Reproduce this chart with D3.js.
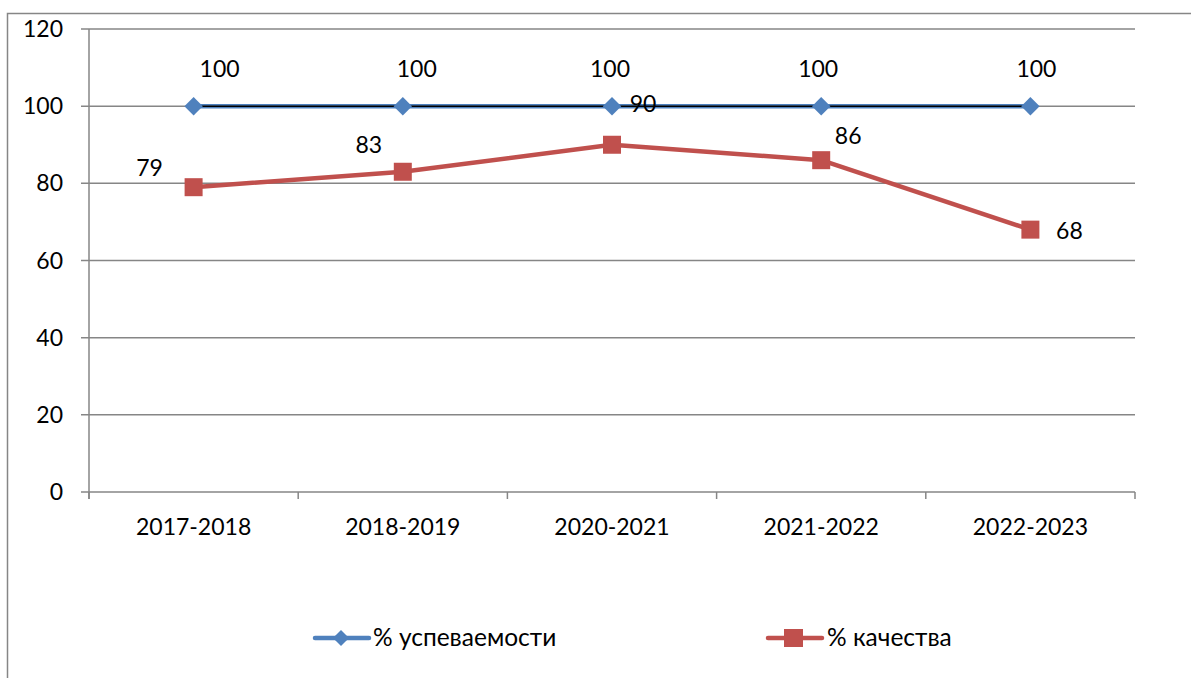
<!DOCTYPE html>
<html>
<head>
<meta charset="utf-8">
<script src="https://d3js.org/d3.v7.min.js"></script>
<style>
  body { margin: 0; background: #fff; }
  text { font-family: Lato, "Open Sans", "Liberation Sans", sans-serif; fill: #000; }
</style>
</head>
<body>
<div id="chart"></div>
<script>
// data
var years = ["2017-2018", "2018-2019", "2020-2021", "2021-2022", "2022-2023"];
var uspevaemost = [100, 100, 100, 100, 100];
var kachestvo = [79, 83, 90, 86, 68];
var yTicks = [0, 20, 40, 60, 80, 100, 120];

var W = 1191, H = 678;
var margin = {top: 29, right: 56, bottom: 186, left: 89},
    width = W - margin.left - margin.right,
    height = H - margin.top - margin.bottom;
var fs = 23;

var svg = d3.select("#chart").append("svg")
    .attr("width", W).attr("height", H);

// outer frame
svg.append("rect")
  .attr("x", 7.5).attr("y", 13.5)
  .attr("width", W + 10).attr("height", H + 10)
  .attr("fill", "none").attr("stroke", "#868686").attr("stroke-width", 1.5);

var g = svg.append("g")
  .attr("transform", "translate(" + margin.left + "," + margin.top + ")");

var x = d3.scaleBand().domain(years).range([0, width]);
var y = d3.scaleLinear().domain([0, 120]).range([height, 0]);
var cx = function(i) { return x(years[i]) + x.bandwidth() / 2; };

// gridlines
g.selectAll(".grid").data(yTicks).enter().append("line")
  .attr("x1", -8).attr("x2", width)
  .attr("y1", function(d) { return y(d); }).attr("y2", function(d) { return y(d); })
  .attr("stroke", "#868686").attr("stroke-width", 1.5);

// y axis line
g.append("line").attr("x1", 0).attr("x2", 0).attr("y1", 0).attr("y2", height + 7)
  .attr("stroke", "#868686").attr("stroke-width", 1.5);

// x ticks at category boundaries
var bounds = years.map(function(d) { return x(d); }).concat([width]);
g.selectAll(".xt").data(bounds).enter().append("line")
  .attr("x1", function(d) { return d; }).attr("x2", function(d) { return d; })
  .attr("y1", height).attr("y2", height + 7)
  .attr("stroke", "#868686").attr("stroke-width", 1.5);

// y tick labels
g.selectAll(".yl").data(yTicks).enter().append("text")
  .attr("x", -26).attr("y", function(d) { return y(d) + 8; })
  .attr("text-anchor", "end").attr("font-size", fs)
  .text(function(d) { return d; });

// x labels
g.selectAll(".xl").data(years).enter().append("text")
  .attr("x", function(d) { return x(d) + x.bandwidth() / 2; })
  .attr("y", height + 43)
  .attr("text-anchor", "middle").attr("font-size", fs)
  .text(function(d) { return d; });

var blue = "#4F81BD", red = "#C0504D";
var line = d3.line().x(function(d, i) { return cx(i); }).y(function(d) { return y(d); });

// red series
g.append("path").datum(kachestvo).attr("d", line)
  .attr("fill", "none").attr("stroke", red).attr("stroke-width", 4.5)
  .attr("stroke-linejoin", "round");
g.selectAll(".sq").data(kachestvo).enter().append("rect")
  .attr("x", function(d, i) { return cx(i) - 9; })
  .attr("y", function(d) { return y(d) - 9; })
  .attr("width", 18).attr("height", 18).attr("fill", red);

// blue series
g.append("path").datum(uspevaemost).attr("d", line)
  .attr("fill", "none").attr("stroke", blue).attr("stroke-width", 4.5);
g.append("path").datum(uspevaemost).attr("d", line)
  .attr("fill", "none").attr("stroke", "#000").attr("stroke-width", 1.5);
var diamond = d3.symbol().type(d3.symbolSquare).size(170);
g.selectAll(".dm").data(uspevaemost).enter().append("path")
  .attr("d", diamond)
  .attr("transform", function(d, i) { return "translate(" + cx(i) + "," + y(d) + ") rotate(45)"; })
  .attr("fill", blue);

// data labels
var blueDx = [26, 14, -2, -3, 6];
g.selectAll(".bl").data(uspevaemost).enter().append("text")
  .attr("x", function(d, i) { return cx(i) + blueDx[i]; })
  .attr("y", function(d) { return y(d) - 29; })
  .attr("text-anchor", "middle").attr("font-size", fs)
  .text(function(d) { return d; });

var redDx = [-44, -34, 31, 27, 39], redDy = [-11, -19, -33, -16, 9];
g.selectAll(".rl").data(kachestvo).enter().append("text")
  .attr("x", function(d, i) { return cx(i) + redDx[i]; })
  .attr("y", function(d, i) { return y(d) + redDy[i]; })
  .attr("text-anchor", "middle").attr("font-size", fs)
  .text(function(d) { return d; });

// legend
var leg = svg.append("g");
var ly = 638;
leg.append("line").attr("x1", 315).attr("x2", 369).attr("y1", ly).attr("y2", ly)
  .attr("stroke", blue).attr("stroke-width", 4.5).attr("stroke-linecap", "round");
leg.append("path").attr("d", d3.symbol().type(d3.symbolSquare).size(130))
  .attr("transform", "translate(341," + ly + ") rotate(45)").attr("fill", blue);
leg.append("text").attr("x", 373).attr("y", ly + 8).attr("font-size", 24.5).text("% успеваемости");

leg.append("line").attr("x1", 768).attr("x2", 822).attr("y1", ly).attr("y2", ly)
  .attr("stroke", red).attr("stroke-width", 4.5).attr("stroke-linecap", "round");
leg.append("rect").attr("x", 784).attr("y", ly - 9).attr("width", 19).attr("height", 18).attr("fill", red);
leg.append("text").attr("x", 827).attr("y", ly + 8).attr("font-size", 24.5).text("% качества");
</script>
</body>
</html>
